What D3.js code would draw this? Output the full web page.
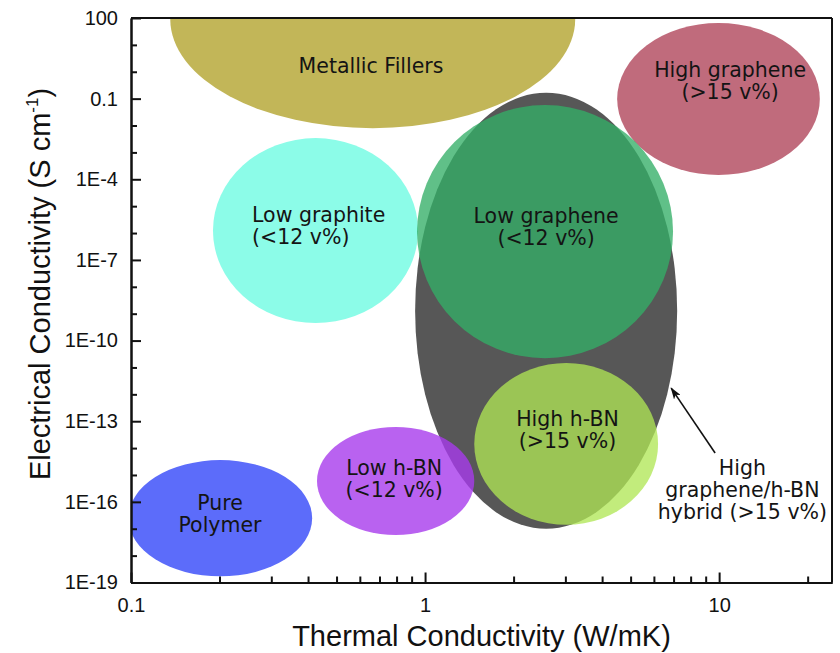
<!DOCTYPE html>
<html><head><meta charset="utf-8">
<script src="https://cdn.jsdelivr.net/npm/d3@7"></script>
<style>body{margin:0;background:#fff} svg{display:block}</style>
</head><body><svg id="c" width="840" height="653"></svg>
<script>
// ---- data ----
const regionNames = ["Metallic Fillers","High graphene","Low graphite","Pure Polymer","Hybrid","Low graphene","Low h-BN","High h-BN"];
const regionLabels = [["Metallic Fillers"],["High graphene","(>15 v%)"],["Low graphite","(<12 v%)"],["Pure","Polymer"],[],["Low graphene","(<12 v%)"],["Low h-BN","(<12 v%)"],["High h-BN","(>15 v%)"]];
const thermalMin = [0.136, 4.5, 0.19, 0.098, 0.925, 0.939, 0.429, 1.47];
const thermalMax = [3.24, 22, 0.947, 0.413, 7.2, 6.97, 1.47, 6.2];
const electricalMin = [8e-3, 1.44e-4, 4.5e-10, 1.7e-19, 1e-17, 2.2e-11, 5.8e-18, 1.4e-17];
const electricalMax = [1e6, 65, 3.4e-3, 3.6e-15, 0.166, 0.058, 6.1e-14, 1.46e-11];
const labelThermal = [0.655, 10.9, 0.258, 0.2007, null, 2.58, 0.785, 3.05];
const labelElectrical = [0.9, 0.64, 2.6e-6, 5e-17, null, 2.4e-6, 1e-15, 6.6e-14];
const noteLines = ["High","graphene/h-BN","hybrid (>15 v%)"];
const notePoint = [12, 1e-15];
const arrowFrom = [9.69, 6.6e-15];
const arrowTo = [6.87, 1.7e-12];
const xTickValues = [0.1, 1, 10];
const xTickLabels = ["0.1", "1", "10"];
const yTickValues = [100, 0.1, 1e-4, 1e-7, 1e-10, 1e-13, 1e-16, 1e-19];
const yTickLabels = ["100", "0.1", "1E-4", "1E-7", "1E-10", "1E-13", "1E-16", "1E-19"];
const xDomain = [0.1, 24.2];
const yDomain = [1e-19, 100];

// ---- styles ----
const styleMap = {
  "Metallic Fillers": {fill: "#c2b658", op: 1},
  "High graphene": {fill: "#c06b7c", op: 1},
  "Low graphite": {fill: "#8cfce8", op: 1, anchor: "start"},
  "Pure Polymer": {fill: "#5c6cfa", op: 1},
  "Hybrid": {fill: "#575757", op: 1},
  "Low graphene": {fill: "rgb(51,174,102)", op: 0.78},
  "Low h-BN": {fill: "rgb(167,59,236)", op: 0.8},
  "High h-BN": {fill: "rgb(176,230,84)", op: 0.77}
};

const L = 131, R = 832, T = 18, B = 582.5;
const svg = d3.select("#c");
const x = d3.scaleLog().domain(xDomain).range([L, R]);
const y = d3.scaleLog().domain(yDomain).range([B, T]);

svg.append("defs").append("clipPath").attr("id", "plot")
  .append("rect").attr("x", L).attr("y", T).attr("width", R - L).attr("height", B - T);
svg.select("defs").append("marker").attr("id", "ah")
  .attr("viewBox", "0 0 12 8").attr("refX", 11).attr("refY", 4)
  .attr("markerWidth", 12).attr("markerHeight", 8).attr("markerUnits", "userSpaceOnUse")
  .attr("orient", "auto")
  .append("path").attr("d", "M0,0 L12,4 L0,8 L3,4 Z").attr("fill", "#111");

const g = svg.append("g").attr("clip-path", "url(#plot)");
regionNames.forEach((n, i) => {
  const x0 = x(thermalMin[i]), x1 = x(thermalMax[i]);
  const y0 = y(electricalMax[i]), y1 = y(electricalMin[i]);
  const s = styleMap[n];
  g.append("ellipse")
    .attr("cx", (x0 + x1) / 2).attr("cy", (y0 + y1) / 2)
    .attr("rx", (x1 - x0) / 2).attr("ry", (y1 - y0) / 2)
    .attr("fill", s.fill).attr("fill-opacity", s.op);
});

// region labels
regionNames.forEach((n, i) => {
  if (!regionLabels[i].length) return;
  const s = styleMap[n];
  const t = svg.append("text")
    .attr("x", x(labelThermal[i])).attr("y", y(labelElectrical[i]))
    .attr("text-anchor", s.anchor || "middle")
    .attr("font-family", "'DejaVu Sans', Verdana, sans-serif")
    .attr("font-size", 20.5).attr("fill", "#141414");
  regionLabels[i].forEach((line, k) => {
    t.append("tspan").attr("x", x(labelThermal[i])).attr("dy", k === 0 ? 0 : 22).text(line);
  });
});

// annotation
const nt = svg.append("text")
  .attr("x", x(notePoint[0])).attr("y", y(notePoint[1]))
  .attr("text-anchor", "middle")
  .attr("font-family", "'DejaVu Sans', Verdana, sans-serif")
  .attr("font-size", 20.5).attr("fill", "#141414");
noteLines.forEach((line, k) => {
  nt.append("tspan").attr("x", x(notePoint[0])).attr("dy", k === 0 ? 0 : 22).text(line);
});
svg.append("line")
  .attr("x1", x(arrowFrom[0])).attr("y1", y(arrowFrom[1]))
  .attr("x2", x(arrowTo[0])).attr("y2", y(arrowTo[1]))
  .attr("stroke", "#111").attr("stroke-width", 1.6).attr("marker-end", "url(#ah)");

// axes
const font = "'Liberation Sans', Arial, sans-serif";
const xMinor = [];
[0.1, 1, 10].forEach(d => { for (let m = 2; m <= 9; m++) if (d * m <= xDomain[1]) xMinor.push(d * m); });
const yMinor = [];
for (let e = -19; e <= 2; e++) { const v = Math.pow(10, e); if (!yTickValues.some(t => Math.abs(Math.log10(t) - e) < 1e-9)) yMinor.push(v); }

const xAxis = svg.append("g").attr("transform", `translate(0,${B})`)
  .call(d3.axisBottom(x).tickValues(xTickValues).tickFormat((d, i) => xTickLabels[i])
    .tickSizeInner(-10).tickSizeOuter(0).tickPadding(14));
const xAxisMinor = svg.append("g").attr("transform", `translate(0,${B})`)
  .call(d3.axisBottom(x).tickValues(xMinor).tickFormat("").tickSizeInner(-6).tickSizeOuter(0));
const yAxis = svg.append("g").attr("transform", `translate(${L},0)`)
  .call(d3.axisLeft(y).tickValues(yTickValues).tickFormat((d, i) => yTickLabels[i])
    .tickSizeInner(-10).tickSizeOuter(0).tickPadding(13));
const yAxisMinor = svg.append("g").attr("transform", `translate(${L},0)`)
  .call(d3.axisLeft(y).tickValues(yMinor).tickFormat("").tickSizeInner(-6).tickSizeOuter(0));
[xAxis, xAxisMinor, yAxis, yAxisMinor].forEach(a => {
  a.selectAll("path.domain").attr("stroke", "#111").attr("stroke-width", 2);
  a.selectAll(".tick line").attr("stroke", "#111").attr("stroke-width", 2);
  a.selectAll("text").attr("font-family", font).attr("font-size", 20).attr("fill", "#111");
});
xAxis.selectAll("text").attr("dy", "0.75em");
// frame top & right
svg.append("line").attr("x1", L).attr("x2", R).attr("y1", T).attr("y2", T).attr("stroke", "#111").attr("stroke-width", 2);
svg.append("line").attr("x1", R).attr("x2", R).attr("y1", T).attr("y2", B).attr("stroke", "#111").attr("stroke-width", 2);

// titles
svg.append("text").attr("x", (L + R) / 2).attr("y", 646).attr("text-anchor", "middle")
  .attr("font-family", font).attr("font-size", 29).attr("fill", "#111")
  .text("Thermal Conductivity (W/mK)");
const yt = svg.append("text").attr("transform", `translate(50,${284}) rotate(-90)`)
  .attr("text-anchor", "middle").attr("font-family", font).attr("font-size", 29).attr("fill", "#111");
yt.append("tspan").text("Electrical Conductivity (S cm");
yt.append("tspan").attr("font-size", 17).attr("dy", -12).text("-1");
yt.append("tspan").attr("dy", 12).text(")");
</script></body></html>
